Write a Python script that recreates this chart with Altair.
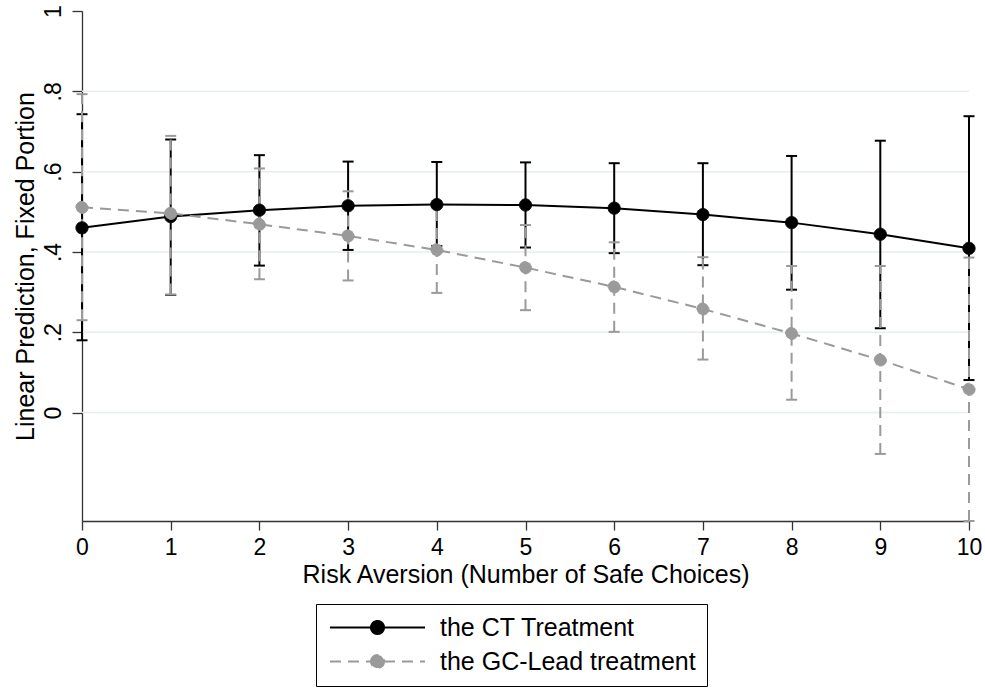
import altair as alt
import pandas as pd

# ---- data ----
risk = [0, 1, 2, 3, 4, 5, 6, 7, 8, 9, 10]
series_names = ["the CT Treatment", "the GC-Lead treatment"]

ct_mean = [0.460, 0.488, 0.504, 0.515, 0.518, 0.517, 0.509, 0.493, 0.473, 0.444, 0.409]
ct_lo = [0.180, 0.293, 0.366, 0.405, 0.415, 0.411, 0.397, 0.367, 0.306, 0.210, 0.081]
ct_hi = [0.743, 0.680, 0.641, 0.625, 0.624, 0.623, 0.621, 0.621, 0.639, 0.677, 0.738]

gc_mean = [0.511, 0.496, 0.469, 0.440, 0.405, 0.361, 0.313, 0.258, 0.197, 0.131, 0.058]
gc_lo = [0.230, 0.294, 0.332, 0.329, 0.298, 0.255, 0.201, 0.132, 0.032, -0.103, -0.270]
gc_hi = [0.793, 0.689, 0.608, 0.551, 0.512, 0.467, 0.424, 0.387, 0.365, 0.365, 0.386]

y_ticks = [0, 0.2, 0.4, 0.6, 0.8, 1]
grid_vals = [0, 0.2, 0.4, 0.6, 0.8]

rows = []
for name, m, lo, hi in [(series_names[0], ct_mean, ct_lo, ct_hi),
                        (series_names[1], gc_mean, gc_lo, gc_hi)]:
    for x, a, b, c in zip(risk, m, lo, hi):
        rows.append({"x": x, "mean": a, "lo": b, "hi": c, "series": name})
df = pd.DataFrame(rows)
grid_df = pd.DataFrame({"g": grid_vals})

FONT = "Liberation Sans"
W, H = 887, 510
BLACK, GREY = "#000000", "#9a9a9a"
DASH = [11, 7]

xscale = alt.Scale(domain=[0, 10], nice=False, zero=False)
yscale = alt.Scale(domain=[-0.27, 1], nice=False, zero=False)
cscale = alt.Scale(domain=series_names, range=[BLACK, GREY])
dscale = alt.Scale(domain=series_names, range=[[1, 0], DASH])

xaxis = alt.Axis(values=risk, title="Risk Aversion (Number of Safe Choices)",
                 grid=False, labelFlush=False, tickSize=9, labelPadding=24,
                 labelBaseline="alphabetic", labelFontSize=23, labelFont=FONT,
                 labelColor="black", titleFont=FONT, titleFontSize=25,
                 titleFontWeight="normal", titleColor="black",
                 titleBaseline="alphabetic", titleX=W / 2, titleY=61.5,
                 titleAnchor="middle", domainColor="#333333", domainWidth=1.3,
                 tickColor="#333333", tickWidth=1.3)

yaxis = alt.Axis(values=y_ticks, title="Linear Prediction, Fixed Portion",
                 grid=False, labelFlush=False, tickSize=10, labelPadding=12,
                 labelAngle=270, labelAlign="center", labelBaseline="alphabetic",
                 labelFontSize=23, labelFont=FONT, labelColor="black",
                 labelExpr="datum.value == 0 ? '0' : datum.value == 1 ? '1' : replace(format(datum.value, '.1f'), '0.', '.')",
                 titleFont=FONT, titleFontSize=25, titleFontWeight="normal",
                 titleColor="black", titleAngle=270, titleAlign="center",
                 titleBaseline="alphabetic", titleX=-49, titleY=H / 2,
                 domainColor="#333333", domainWidth=1.3,
                 tickColor="#333333", tickWidth=1.3)

# legend symbol: a 95 px line with a filled circle in the middle
# (symbolSize 196 -> path unit = 7 px)
sym_path = ("M-6.79,0L6.79,0M-0.93,0A0.93,0.93,0,1,1,0.93,0"
            "A0.93,0.93,0,1,1,-0.93,0Z")

legend = alt.Legend(
    title=None, orient="none", legendX=234, legendY=593, direction="vertical",
    symbolType=sym_path, symbolSize=196, symbolStrokeWidth=2, symbolOpacity=1,
    symbolOffset=38,
    labelFont=FONT, labelFontSize=25, labelColor="black", labelOffset=50,
    labelLimit=500, rowPadding=8, padding=11, strokeColor="black",
    fillColor="white",
)

X = alt.X("x:Q", scale=xscale, axis=xaxis)

grid = alt.Chart(grid_df).mark_rule(color="#e6eef0", strokeWidth=1.5).encode(
    y=alt.Y("g:Q", scale=yscale, axis=yaxis)
)

base = alt.Chart(df)


def part(name):
    return base.transform_filter(alt.datum.series == name)


def ci_layer(name, color, dash):
    kw = {"strokeDash": dash} if dash else {}
    return part(name).mark_rule(strokeWidth=2, color=color, **kw).encode(
        x=X, y=alt.Y("lo:Q", scale=yscale, axis=yaxis), y2="hi:Q")


def cap_layer(name, color, field):
    return part(name).mark_tick(orient="horizontal", size=11, thickness=2,
                                opacity=1, color=color).encode(
        x=X, y=alt.Y(field + ":Q", scale=yscale, axis=yaxis))


def line_layer(name, color, dash):
    kw = {"strokeDash": dash} if dash else {}
    return part(name).mark_line(strokeWidth=2, color=color, **kw).encode(
        x=X, y=alt.Y("mean:Q", scale=yscale, axis=yaxis))


pts = base.mark_point(filled=True, size=150, opacity=1, strokeWidth=1).encode(
    x=X, y=alt.Y("mean:Q", scale=yscale, axis=yaxis),
    fill=alt.Fill("series:N", scale=cscale, legend=legend),
    stroke=alt.Stroke("series:N", scale=cscale, legend=legend),
    strokeDash=alt.StrokeDash("series:N", scale=dscale, legend=legend),
)

layers = [
    grid,
    ci_layer(series_names[0], BLACK, None),
    cap_layer(series_names[0], BLACK, "lo"),
    cap_layer(series_names[0], BLACK, "hi"),
    ci_layer(series_names[1], GREY, DASH),
    cap_layer(series_names[1], GREY, "lo"),
    cap_layer(series_names[1], GREY, "hi"),
    line_layer(series_names[0], BLACK, None),
    line_layer(series_names[1], GREY, DASH),
    pts,
]

chart = alt.layer(*layers).properties(
    width=W, height=H,
    autosize=alt.AutoSizeParams(type="none"),
    padding={"left": 82, "top": 11, "right": 16, "bottom": 167},
    background="white",
).configure_view(stroke=None)

chart.save("out.html", embed_options={"renderer": "svg", "actions": False})
